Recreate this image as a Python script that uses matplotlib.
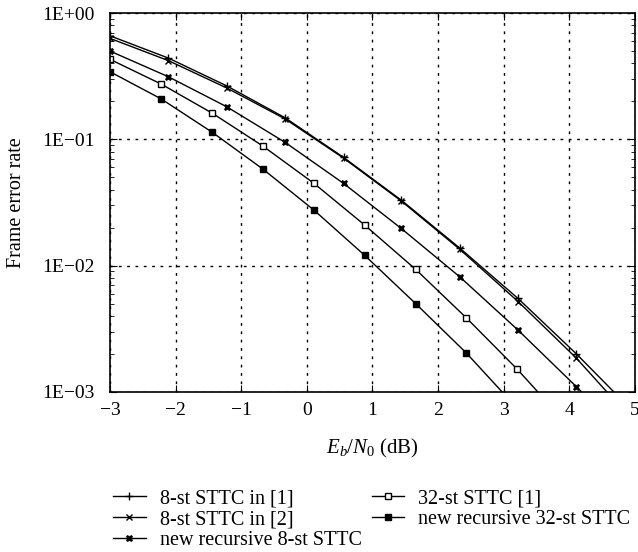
import numpy as np
import matplotlib
matplotlib.use("Agg")
import matplotlib.pyplot as plt
from matplotlib.ticker import LogLocator, FixedLocator, NullFormatter

plt.rcParams['font.family'] = ['Liberation Serif', 'DejaVu Serif']
plt.rcParams['mathtext.fontset'] = 'custom'
plt.rcParams['mathtext.it'] = 'Liberation Serif:italic'
plt.rcParams['mathtext.rm'] = 'Liberation Serif'

# Data
x_8 = [-3.0, -2.11, -1.22, -0.33, 0.56, 1.44, 2.33, 3.22, 4.11, 5.0]
fer_8st_1 = [0.66, 0.44, 0.265, 0.148, 0.072, 0.033, 0.0138, 0.0055, 0.0020, 0.00068]
fer_8st_2 = [0.63, 0.42, 0.255, 0.145, 0.071, 0.0325, 0.0135, 0.0052, 0.00185, 0.00057]
fer_new8 = [0.50, 0.313, 0.181, 0.0946, 0.0448, 0.0197, 0.00817, 0.00309, 0.0011, 0.00038]

x_32 = [-3.0, -2.22, -1.44, -0.67, 0.11, 0.88, 1.66, 2.43, 3.21, 3.99]
fer_32st_1 = [0.43, 0.274, 0.161, 0.0885, 0.0448, 0.0210, 0.00934, 0.00387, 0.00151, 0.00054]
fer_new32 = [0.343, 0.209, 0.1136, 0.0582, 0.0275, 0.0121, 0.0050, 0.00204, 0.00074, 0.00026]

labels = ["8-st STTC in [1]", "8-st STTC in [2]", "new recursive 8-st STTC",
          "32-st STTC [1]", "new recursive 32-st STTC"]
xticks = [-3, -2, -1, 0, 1, 2, 3, 4, 5]
yticks = [1e-3, 1e-2, 1e-1, 1e0]
ytick_labels = ["1E\u221203", "1E\u221202", "1E\u221201", "1E+00"]

fig = plt.figure(figsize=(6.38, 5.52), dpi=100)
ax = fig.add_axes([0.1724, 0.2899, 0.8226, 0.6865])

lw = 1.0
h1, = ax.plot(x_8, fer_8st_1, color='black', lw=lw, marker='+', ms=6, mew=1.0)
h2, = ax.plot(x_8, fer_8st_2, color='black', lw=lw, marker='x', ms=4.5, mew=1.0)
h3, = ax.plot(x_8, fer_new8, color='black', lw=lw, marker='X', ms=5, mew=0.5)
h4, = ax.plot(x_32, fer_32st_1, color='black', lw=lw, marker='s', ms=4.5, mfc='white', mew=1.0)
h5, = ax.plot(x_32, fer_new32, color='black', lw=lw, marker='s', ms=4.5, mfc='black')

ax.set_yscale('log')
ax.set_xlim(-3, 5)
ax.set_ylim(1e-3, 1)
ax.xaxis.set_major_locator(FixedLocator(xticks))
ax.set_xticklabels(["\u2212%d" % -t if t < 0 else "%d" % t for t in xticks])
ax.yaxis.set_major_locator(FixedLocator(yticks))
ax.set_yticklabels(ytick_labels)
ax.yaxis.set_minor_locator(LogLocator(base=10, subs=np.arange(2, 10)))
ax.yaxis.set_minor_formatter(NullFormatter())

ax.grid(True, which='major', color='black', linestyle=(0, (2, 4)), linewidth=1.0)
ax.tick_params(which='both', direction='in', top=True, right=True, labelsize=14)
ax.tick_params(which='major', length=5)
ax.tick_params(which='minor', length=3)
ax.tick_params(axis='x', pad=7)
ax.tick_params(axis='y', pad=11)
for s in ax.spines.values():
    s.set_linewidth(1.2)

ax.set_xlabel("$E_b/N_0$ (dB)", fontsize=15, labelpad=13)
ax.set_ylabel("Frame error rate", fontsize=14.5, labelpad=12)

fig.legend([h1, h2, h3, h4, h5], labels, loc='upper left', bbox_to_anchor=(0.165, 0.128),
           ncol=2, frameon=False, fontsize=14.5, handlelength=1.6, columnspacing=0.5,
           labelspacing=0.08, borderaxespad=0, handletextpad=0.7)

fig.savefig("out.png", dpi=100)
